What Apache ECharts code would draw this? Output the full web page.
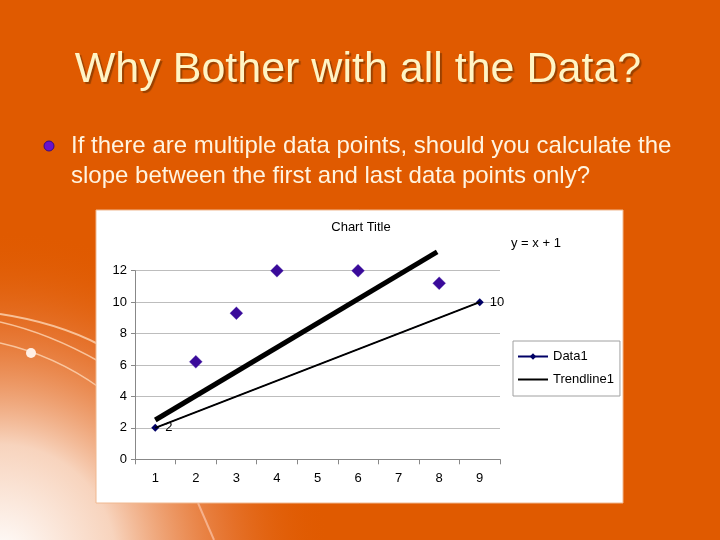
<!DOCTYPE html>
<html>
<head>
<meta charset="utf-8">
<script src="https://cdn.jsdelivr.net/npm/echarts@6/dist/echarts.min.js"></script>
<style>
  html, body { margin: 0; padding: 0; }
  #chart { width: 720px; height: 540px; }
</style>
</head>
<body>
<div id="chart"></div>
<script>
// categories on the x axis
const categories = ['1', '2', '3', '4', '5', '6', '7', '8', '9'];
const yTicks = [0, 2, 4, 6, 8, 10, 12];

// Data1: first and last points
const data1X = [1, 9];
const data1Y = [2, 10];

// trendline y = x + 1 through the same two points
const trendX = [1, 9];
const trendY = [2, 10];

// the other measured points
const pointsX = [2, 3, 4, 6, 8];
const pointsY = [6.2, 9.3, 12, 12, 11.2];

// hand drawn thick line
const thickX = [1, 7.95];
const thickY = [2.5, 13.2];

const zip = (xs, ys) => xs.map((x, i) => [x, ys[i]]);

const chartDom = document.getElementById('chart');
const myChart = echarts.init(chartDom);

const font = '"Liberation Sans", Arial, sans-serif';
const swoosh = 'rgba(255,220,190,0.75)';

const option = {
    backgroundColor: '#E05A00',
    animation: false,
    graphic: [
        {
            type: 'circle',
            z: -10,
            silent: true,
            shape: { cx: 0, cy: 560, r: 330 },
            style: {
                fill: new echarts.graphic.RadialGradient(0.5, 0.5, 0.5, [
                    { offset: 0, color: 'rgba(255,255,255,1)' },
                    { offset: 0.35, color: 'rgba(250,225,210,0.9)' },
                    { offset: 0.7, color: 'rgba(235,140,90,0.5)' },
                    { offset: 1, color: 'rgba(224,90,0,0)' }
                ])
            }
        },
        {
            type: 'bezierCurve',
            z: -5,
            silent: true,
            shape: { x1: 0, y1: 314, cpx1: 40, cpy1: 320, cpx2: 75, cpy2: 332, x2: 100, y2: 345 },
            style: { fill: 'none', stroke: swoosh, lineWidth: 2 }
        },
        {
            type: 'bezierCurve',
            z: -5,
            silent: true,
            shape: { x1: 0, y1: 322, cpx1: 35, cpy1: 330, cpx2: 70, cpy2: 345, x2: 100, y2: 362 },
            style: { fill: 'none', stroke: swoosh, lineWidth: 1.5 }
        },
        {
            type: 'bezierCurve',
            z: -5,
            silent: true,
            shape: { x1: 0, y1: 343, cpx1: 40, cpy1: 352, cpx2: 75, cpy2: 370, x2: 100, y2: 388 },
            style: { fill: 'none', stroke: swoosh, lineWidth: 1.5 }
        },
        {
            type: 'circle',
            z: -4,
            silent: true,
            shape: { cx: 31, cy: 353, r: 5 },
            style: { fill: '#FFEFE6' }
        },
        {
            type: 'line',
            z: -5,
            silent: true,
            shape: { x1: 198, y1: 503, x2: 214, y2: 540 },
            style: { stroke: 'rgba(255,210,190,0.6)', lineWidth: 2 }
        },
        {
            type: 'text',
            x: 358,
            y: 70,
            style: {
                text: 'Why Bother with all the Data?',
                font: '43px ' + font,
                fill: '#FFF4C4',
                align: 'center',
                verticalAlign: 'middle',
                textShadowColor: '#9A4000',
                textShadowOffsetX: 2,
                textShadowOffsetY: 2,
                textShadowBlur: 1
            }
        },
        {
            type: 'circle',
            shape: { cx: 49, cy: 146, r: 5 },
            style: { fill: '#6A12CC', stroke: '#3A0880', lineWidth: 1 }
        },
        {
            type: 'text',
            x: 71,
            y: 131,
            style: {
                text: 'If there are multiple data points, should you calculate the\nslope between the first and last data points only?',
                font: '24px ' + font,
                lineHeight: 30,
                fill: '#FFF4E0',
                textShadowColor: '#9A4000',
                textShadowOffsetX: 1,
                textShadowOffsetY: 1
            }
        },
        {
            type: 'rect',
            z: -1,
            shape: { x: 96, y: 210, width: 527, height: 293 },
            style: { fill: '#FFFFFF', stroke: '#F0B890', lineWidth: 1 }
        },
        {
            type: 'text',
            x: 361,
            y: 227,
            style: {
                text: 'Chart Title',
                font: '13px ' + font,
                fill: '#000',
                align: 'center',
                verticalAlign: 'middle'
            }
        },
        {
            type: 'text',
            x: 511,
            y: 243,
            style: {
                text: 'y = x + 1',
                font: '13px ' + font,
                fill: '#000',
                verticalAlign: 'middle'
            }
        }
    ],
    legend: {
        data: [
            { name: 'Data1' },
            { name: 'Trendline1', itemStyle: { opacity: 0 } }
        ],
        orient: 'vertical',
        left: 513,
        top: 341,
        borderColor: '#A0A0A0',
        borderWidth: 1,
        borderRadius: 0,
        padding: [9, 6, 10, 4],
        itemWidth: 30,
        itemHeight: 8,
        itemGap: 10,
        textStyle: { fontFamily: font, fontSize: 13, color: '#000' }
    },
    grid: {
        left: 135,
        top: 270.7,
        width: 365,
        height: 188.6,
        containLabel: false
    },
    xAxis: [
        {
            type: 'category',
            data: categories,
            boundaryGap: true,
            axisLine: { lineStyle: { color: '#888' } },
            axisTick: { show: true, length: 5, lineStyle: { color: '#888' } },
            axisLabel: { margin: 13, fontFamily: font, fontSize: 13, color: '#000' },
            splitLine: { show: false }
        },
        {
            type: 'value',
            min: 0.5,
            max: 9.5,
            show: false
        }
    ],
    yAxis: {
        type: 'value',
        min: yTicks[0],
        max: yTicks[yTicks.length - 1],
        interval: 2,
        axisLine: { show: true, lineStyle: { color: '#888' } },
        axisTick: { show: true, length: 4, lineStyle: { color: '#888' } },
        axisLabel: { margin: 8, fontFamily: font, fontSize: 13, color: '#000' },
        splitLine: { lineStyle: { color: '#BDBDBD' } }
    },
    series: [
        {
            name: 'Data1',
            type: 'line',
            xAxisIndex: 1,
            data: zip(data1X, data1Y),
            symbol: 'diamond',
            symbolSize: 8,
            itemStyle: { color: '#000066' },
            lineStyle: { color: '#000066', width: 1 },
            label: {
                show: true,
                position: 'right',
                distance: 6,
                formatter: (p) => p.value[1],
                fontFamily: font,
                fontSize: 13,
                color: '#000'
            },
            z: 3
        },
        {
            name: 'Trendline1',
            type: 'line',
            xAxisIndex: 1,
            data: zip(trendX, trendY),
            symbol: 'none',
            lineStyle: { color: '#000', width: 2 },
            itemStyle: { color: '#000' },
            z: 4
        },
        {
            name: 'Points',
            type: 'scatter',
            xAxisIndex: 1,
            data: zip(pointsX, pointsY),
            symbol: 'diamond',
            symbolSize: 13,
            itemStyle: {
                color: '#3A0A9A',
                opacity: 1,
                borderColor: 'rgba(120,100,190,0.6)',
                borderWidth: 0.6
            },
            z: 5
        },
        {
            name: 'Thick',
            type: 'line',
            xAxisIndex: 1,
            data: zip(thickX, thickY),
            symbol: 'none',
            clip: false,
            lineStyle: { color: '#000', width: 5, cap: 'butt' },
            z: 6
        }
    ]
};

myChart.setOption(option);
</script>
</body>
</html>
